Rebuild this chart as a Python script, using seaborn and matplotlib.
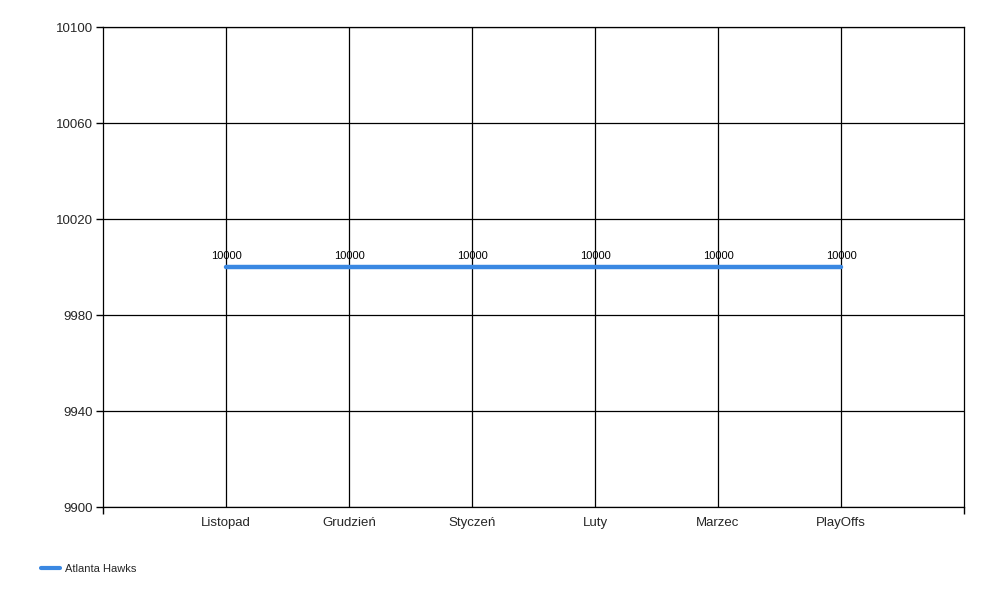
import pandas as pd
import matplotlib.pyplot as plt
import seaborn as sns

months = ['Listopad', 'Grudzień', 'Styczeń', 'Luty', 'Marzec', 'PlayOffs']
hawks = [10000, 10000, 10000, 10000, 10000, 10000]
y_ticks = [9900, 9940, 9980, 10020, 10060, 10100]

df = pd.DataFrame({'pos': range(1, len(months) + 1), 'value': hawks, 'team': 'Atlanta Hawks'})

sns.set_style('white')
plt.rcParams['font.family'] = ['Liberation Sans', 'DejaVu Sans']

fig = plt.figure(figsize=(10, 6), dpi=100)
ax = fig.add_axes([0.103, 0.155, 0.861, 0.8])

sns.lineplot(data=df, x='pos', y='value', hue='team', palette=['#3a88e2'],
             linewidth=3.2, ax=ax, legend=False)

# value labels above points
for x, v in zip(df['pos'], df['value']):
    ax.annotate(str(v), (x, v), xytext=(0, 4), textcoords='offset points',
                ha='center', va='bottom', fontsize=8, color='black')

ax.set_xlim(0, len(months) + 1)
ax.set_ylim(9900, 10100)
ax.set_yticks(y_ticks)
ax.set_xticks(list(df['pos']))
ax.set_xticklabels(months)
ax.set_xticks([0, len(months) + 1], minor=True)
ax.tick_params(axis='x', which='major', length=0, pad=7, labelsize=9.5)
ax.tick_params(axis='x', which='minor', bottom=True, length=5, width=1, color='black', direction='out')
ax.tick_params(axis='y', left=True, length=5, width=1, color='black', direction='out', labelsize=9.5, pad=2)
ax.grid(True, color='black', linewidth=0.9)
ax.set_axisbelow(True)
for s in ax.spines.values():
    s.set_color('black')
    s.set_linewidth(0.9)
ax.set_xlabel('')
ax.set_ylabel('')

# legend at bottom left
fig.legend(handles=[plt.Line2D([0], [0], color='#3a88e2', linewidth=3)], labels=['Atlanta Hawks'],
           loc='center left', bbox_to_anchor=(0.031, 0.052), frameon=False, fontsize=8,
           handlelength=1.75, handletextpad=0.45)

fig.savefig('out.png', dpi=100)
